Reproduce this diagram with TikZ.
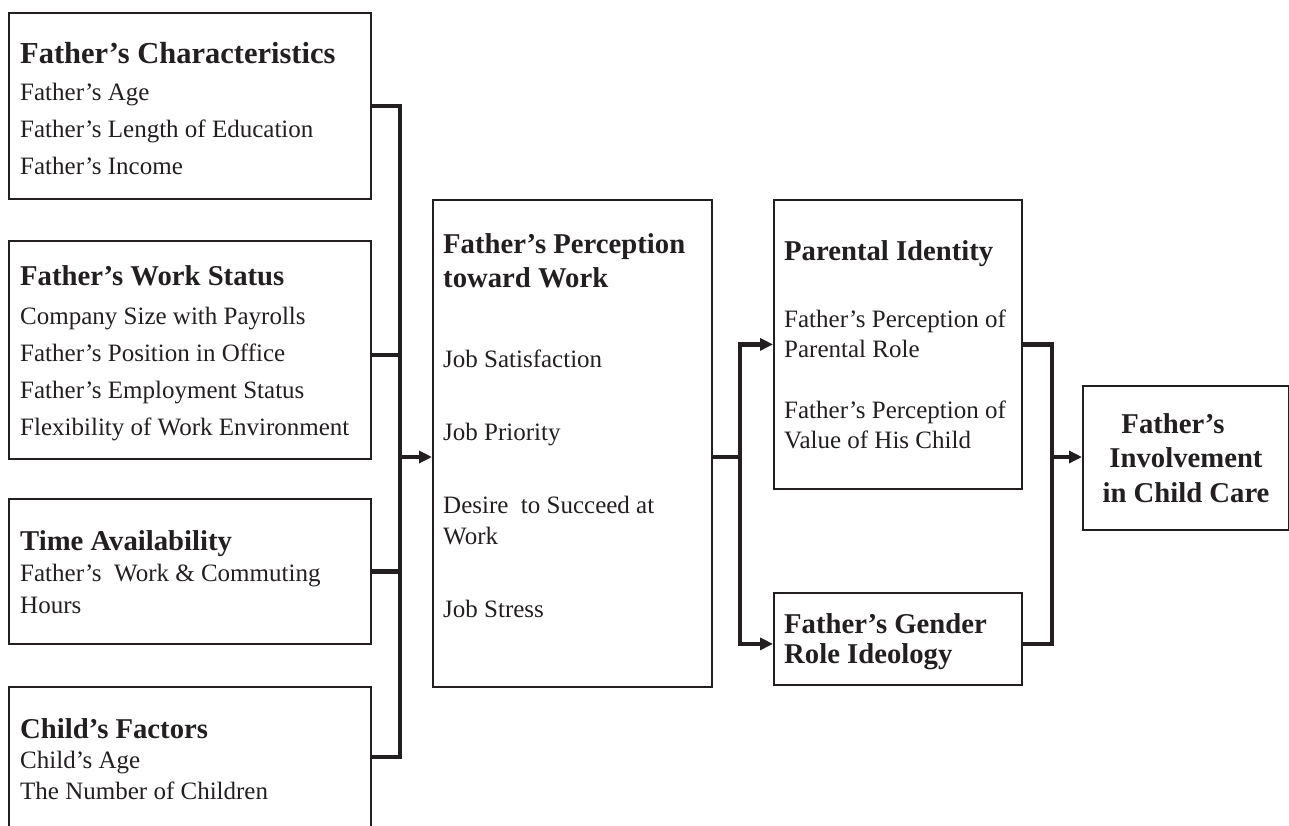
\documentclass[tikz,border=0pt]{standalone}
\usepackage{fontspec}
\setmainfont{Liberation Serif}
\usetikzlibrary{arrows.meta}
\definecolor{ink}{RGB}{35,31,32}
\newcommand{\ttl}[1]{{\fontsize{28.7}{30}\selectfont\bfseries #1}}
\tikzset{
    box/.style={draw=ink, line width=1.8pt, anchor=north west, inner sep=0pt},
    body/.style={anchor=base west, align=left, inner sep=0pt, text=ink, font=\fontsize{25}{#1}\selectfont},
    body/.default=37,
    link/.style={draw=ink, line width=4.5pt},
    arrow/.style={draw=ink, line width=3.2pt, ->}
}

\begin{document}
\begin{tikzpicture}[x=1pt, y=-1pt, >={Triangle[length=13pt, width=12pt]}]
\useasboundingbox (0,0) rectangle (1289,825);
\clip (0,0) rectangle (1289,825);

% Left column: factors
\node (fchar) [box, minimum width=362pt, minimum height=186pt] at (8,12) {};
\node (fwork) [box, minimum width=362pt, minimum height=218pt] at (8,240) {};
\node (ftime) [box, minimum width=362pt, minimum height=145pt] at (8,498) {};
\node (cfact) [box, minimum width=362pt, minimum height=140pt] at (8,686) {};

% text nodes sit on the baseline of their last line
\node (fchar-t) [body=37] at (20,174) {{\fontsize{30.5}{30}\selectfont\bfseries Father's Characteristics}\\ Father's Age\\ Father's Length of Education\\ Father's Income};
\node (fwork-t) [body=37] at (20,435) {\ttl{Father's Work Status}\\[2pt] Company Size with Payrolls\\ Father's Position in Office\\ Father's Employment Status\\ Flexibility of Work Environment};
\node (ftime-t) [body=31.5] at (20,613) {\ttl{Time Availability}\\ Father's\ \ Work \& Commuting\\ Hours};
\node (cfact-t) [body=30.5] at (20,799) {\ttl{Child's Factors}\\ Child's Age\\ The Number of Children};

% Perception toward work
\node (percep) [box, minimum width=279pt, minimum height=487pt] at (432,199) {};
\node (percep-t) [body=31] at (443,617) {\ttl{Father's Perception}\\[3pt] \ttl{toward Work}\\[49pt] Job Satisfaction\\[42pt] Job Priority\\[42pt] Desire\ \ to Succeed at\\ Work\\[42pt] Job Stress};

% Identity and ideology
\node (ident) [box, minimum width=248pt, minimum height=289pt] at (773,199) {};
\node (ident-t) [body=30] at (784,448) {\ttl{Parental Identity}\\[37pt] Father's Perception of\\ Parental Role\\[31pt] Father's Perception of\\ Value of His Child};
\node (gender) [box, minimum width=248pt, minimum height=92pt] at (773,592) {};
\node (gender-t) [body=30] at (784,663) {\ttl{Father's Gender}\\ \ttl{Role Ideology}};

% Outcome
\node (invol) [box, minimum width=206pt, minimum height=144pt] at (1082,385) {};
\node (invol-t) [body=34.5, anchor=base, align=center] at (1186,502) {\ttl{Father's}\rule{26pt}{0pt}\\ \ttl{Involvement}\\ \ttl{in Child Care}};

% Connectors
\coordinate (lbus) at (400,457);
\coordinate (mbus) at (740,457);
\coordinate (rbus) at (1052,457);
\draw[link] (fchar.east) -| (lbus) |- (cfact.east);
\draw[link] ([yshift=-5pt]fwork.east) -- ([yshift=-5pt]fwork.east -| lbus);
\draw[link] (ftime.east) -- (ftime.east -| lbus);
\draw[arrow] (lbus) -- (lbus -| percep.west);

\draw[link] (percep.east |- mbus) -- (mbus);
\draw[link, <->] (ident.west) -| (mbus) |- ([yshift=-5pt]gender.west);

\draw[link] (ident.east) -| (rbus) |- ([yshift=-5pt]gender.east);
\draw[arrow, line width=4pt] (rbus) -- (rbus -| invol.west);

\end{tikzpicture}
\end{document}
